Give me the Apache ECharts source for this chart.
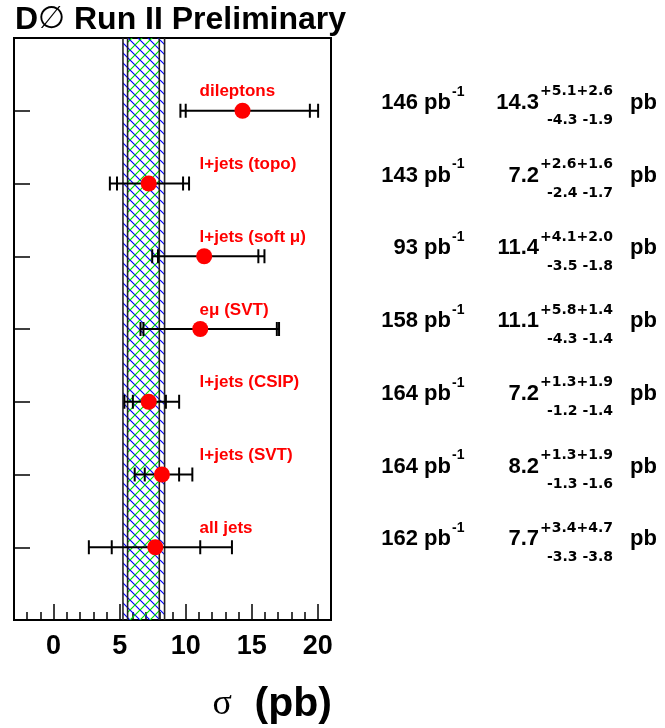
<!DOCTYPE html>
<html><head><meta charset="utf-8">
<script src="https://cdn.jsdelivr.net/npm/echarts@6/dist/echarts.min.js"></script>
<style>html,body{margin:0;padding:0;background:#fff}#c{width:665px;height:728px}</style>
</head><body><div id="c"></div>
<script>
// ---- data ----
const channels = ['dileptons', 'l+jets (topo)', 'l+jets (soft \u03bc)', 'e\u03bc (SVT)', 'l+jets (CSIP)', 'l+jets (SVT)', 'all jets'];
const xsec     = [14.3, 7.2, 11.4, 11.1, 7.2, 8.2, 7.7];
const statUp   = [5.1, 2.6, 4.1, 5.8, 1.3, 1.3, 3.4];
const statDown = [4.3, 2.4, 3.5, 4.3, 1.2, 1.3, 3.3];
const systUp   = [2.6, 1.6, 2.0, 1.4, 1.9, 1.9, 4.7];
const systDown = [1.9, 1.7, 1.8, 1.4, 1.4, 1.6, 3.8];
const lumi     = [146, 143, 93, 158, 164, 164, 162];
const xTicks   = [0, 5, 10, 15, 20];
const bandOuter = [5.25, 8.4];
const bandInner = [5.6, 8.0];

// ---- derived ----
const rowPos = channels.map((_, i) => i + 1);
const errData = channels.map((_, i) => {
  const tUp = Math.sqrt(statUp[i] * statUp[i] + systUp[i] * systUp[i]);
  const tDn = Math.sqrt(statDown[i] * statDown[i] + systDown[i] * systDown[i]);
  return [xsec[i], rowPos[i], xsec[i] - tDn, xsec[i] - statDown[i], xsec[i] + statUp[i], xsec[i] + tUp];
});
const pointData = channels.map((_, i) => [xsec[i], rowPos[i]]);

function hatch(color, dir) {
  const s = 10;
  const c = document.createElement('canvas');
  c.width = s; c.height = s;
  const ctx = c.getContext('2d');
  ctx.strokeStyle = color; ctx.lineWidth = 1.2;
  ctx.beginPath();
  for (let k = -1; k <= 1; k++) {
    if (dir === 'back') { ctx.moveTo(k * s, 0); ctx.lineTo(k * s + s, s); }
    else { ctx.moveTo(k * s, s); ctx.lineTo(k * s + s, 0); }
  }
  ctx.stroke();
  return c;
}
const blueHatch = hatch('#0000ff', 'back');
const greenHatch = hatch('#00e000', 'fwd');

const SANS = '"Liberation Sans", Arial, sans-serif';
const chart = echarts.init(document.getElementById('c'));

chart.setOption({
  animation: false,
  backgroundColor: '#fff',
  grid: { left: 14, right: 334, top: 38, bottom: 108, show: true, borderColor: '#000', borderWidth: 2, backgroundColor: 'transparent' },
  xAxis: [
    {
      type: 'value', min: -3, max: 21, position: 'bottom',
      axisLine: { show: true, onZero: false, lineStyle: { color: '#000', width: 2 } },
      axisTick: { show: true, inside: true, length: 16, customValues: xTicks, lineStyle: { color: '#000', width: 1.5 } },
      axisLabel: { show: true, customValues: xTicks, margin: 13, fontSize: 27, fontWeight: 'bold', fontFamily: SANS, color: '#000' },
      splitLine: { show: false }
    },
    {
      type: 'value', min: -3, max: 21, interval: 1, position: 'bottom', offset: 0,
      axisLine: { show: false, onZero: false },
      axisTick: { show: true, inside: true, length: 8, lineStyle: { color: '#000', width: 1.5 } },
      axisLabel: { show: false },
      splitLine: { show: false }
    }
  ],
  yAxis: {
    type: 'value', min: 0, max: channels.length + 1, inverse: true, position: 'left',
    axisLine: { show: true, onZero: false, lineStyle: { color: '#000', width: 2 } },
    axisTick: { show: true, inside: true, length: 16, customValues: rowPos, lineStyle: { color: '#000', width: 1.5 } },
    axisLabel: { show: false },
    splitLine: { show: false }
  },
  graphic: [
    {
      type: 'text', x: 15, y: 20,
      style: {
        text: '{a|D}{b|\u2205}{a| Run II Preliminary}',
        verticalAlign: 'middle',
        rich: {
          a: { fontSize: 32, fontWeight: 'bold', fontFamily: SANS, fill: '#000' },
          b: { fontSize: 31, fontWeight: 'normal', fontFamily: '"DejaVu Sans"', fill: '#000' }
        }
      }
    },
    {
      type: 'text', x: 332, y: 705,
      style: {
        text: '{s|\u03c3}{p|  (pb)}',
        align: 'right', verticalAlign: 'middle',
        rich: {
          s: { fontSize: 36, fontFamily: '"Liberation Serif", serif', fill: '#000' },
          p: { fontSize: 41, fontWeight: 'bold', fontFamily: SANS, fill: '#000' }
        }
      }
    }
  ],
  series: [
    {
      type: 'custom', xAxisIndex: 0, yAxisIndex: 0, z: 1, clip: false,
      data: [[bandOuter[0], bandOuter[1], bandInner[0], bandInner[1]]],
      renderItem: (params, api) => {
        const cs = params.coordSys;
        const top = cs.y, h = cs.height;
        const xo0 = api.coord([api.value(0), 0])[0];
        const xo1 = api.coord([api.value(1), 0])[0];
        const xi0 = api.coord([api.value(2), 0])[0];
        const xi1 = api.coord([api.value(3), 0])[0];
        const vline = x => ({ type: 'line', shape: { x1: x, y1: top, x2: x, y2: top + h }, style: { stroke: '#222', lineWidth: 1.6 } });
        return {
          type: 'group',
          children: [
            { type: 'rect', shape: { x: xo0, y: top, width: xo1 - xo0, height: h }, style: { fill: { image: blueHatch, repeat: 'repeat' } } },
            { type: 'rect', shape: { x: xi0, y: top, width: xi1 - xi0, height: h }, style: { fill: { image: greenHatch, repeat: 'repeat' } } },
            vline(xo0), vline(xi0), vline(xi1), vline(xo1)
          ]
        };
      }
    },
    {
      type: 'custom', xAxisIndex: 0, yAxisIndex: 0, z: 3, clip: false,
      data: errData,
      renderItem: (params, api) => {
        const i = params.dataIndex;
        const row = api.value(1);
        const px = v => api.coord([v, row])[0];
        const cy = api.coord([0, row])[1];
        const xl = px(api.value(2)), xls = px(api.value(3)), xhs = px(api.value(4)), xh = px(api.value(5));
        const tick = x => ({ type: 'line', shape: { x1: x, y1: cy - 7, x2: x, y2: cy + 7 }, style: { stroke: '#000', lineWidth: 2 } });
        const txt = (x, y, text, font, align, fill) => ({ type: 'text', x: x, y: y, style: { text: text, font: font, align: align, verticalAlign: 'middle', fill: fill || '#000' } });
        const big = 'bold 22px ' + SANS;
        const small = 'bold 14px "DejaVu Sans"';
        return {
          type: 'group',
          children: [
            { type: 'line', shape: { x1: xl, y1: cy, x2: xh, y2: cy }, style: { stroke: '#000', lineWidth: 2 } },
            tick(xl), tick(xls), tick(xhs), tick(xh),
            txt(px(11.05), cy - 19, channels[i], 'bold 17px ' + SANS, 'left', '#ff0000'),
            txt(451, cy - 8, lumi[i] + ' pb', big, 'right'),
            txt(452, cy - 19, '-1', 'bold 14px ' + SANS, 'left'),
            txt(539, cy - 8, xsec[i].toFixed(1), big, 'right'),
            txt(540, cy - 19, '+' + statUp[i].toFixed(1) + '+' + systUp[i].toFixed(1), small, 'left'),
            txt(547, cy + 10, '-' + statDown[i].toFixed(1) + ' -' + systDown[i].toFixed(1), small, 'left'),
            txt(630, cy - 8, 'pb', big, 'left')
          ]
        };
      }
    },
    {
      type: 'scatter', xAxisIndex: 0, yAxisIndex: 0, z: 4,
      symbol: 'circle', symbolSize: 16,
      itemStyle: { color: '#ff0000', opacity: 1 },
      data: pointData
    }
  ]
});
</script>
</body></html>
